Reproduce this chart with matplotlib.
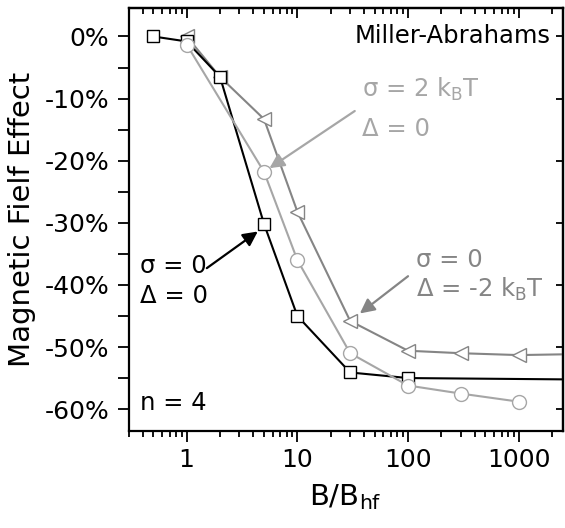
import numpy as np
import matplotlib.pyplot as plt
from matplotlib.ticker import FixedLocator, NullFormatter, LogLocator

# B/B_hf values and magnetic field effect (%) for each curve
b_sq = [0.5, 1, 2, 5, 10, 30, 100, 10000]
mfe_sq = [0.0, -0.8, -6.5, -30.2, -45.0, -54.1, -55.0, -55.3]

b_tri = [1, 2, 5, 10, 30, 100, 300, 1000, 10000]
mfe_tri = [0.0, -6.5, -13.3, -28.2, -45.8, -50.6, -51.0, -51.3, -51.0]

b_circ = [1, 5, 10, 30, 100, 300, 1000]
mfe_circ = [-1.3, -21.8, -36.0, -51.0, -56.2, -57.5, -58.8]

y_ticks = [0, -10, -20, -30, -40, -50, -60]
y_ticklabels = ['0%', '-10%', '-20%', '-30%', '-40%', '-50%', '-60%']

LIGHT = '#a6a6a6'
MID = '#858585'

fig = plt.figure(figsize=(5.65, 5.28), dpi=100)
ax = fig.add_axes([0.228, 0.184, 0.768, 0.801])

ax.plot(b_tri, mfe_tri, color=MID, lw=1.5, marker='<', ms=10, mfc='white', mec=MID, mew=1.0, zorder=2)
ax.plot(b_sq, mfe_sq, color='black', lw=1.5, marker='s', ms=8.5, mfc='white', mec='black', mew=1.0, zorder=3)
ax.plot(b_circ, mfe_circ, color=LIGHT, lw=1.5, marker='o', ms=10, mfc='white', mec=LIGHT, mew=1.0, zorder=4)

ax.set_xscale('log')
ax.set_xlim(0.3, 2500)
ax.set_ylim(-63.5, 4.6)

ax.xaxis.set_major_locator(FixedLocator([1, 10, 100, 1000]))
ax.xaxis.set_minor_locator(LogLocator(base=10, subs=np.arange(2, 10)))
ax.xaxis.set_minor_formatter(NullFormatter())
ax.set_xticklabels(['1', '10', '100', '1000'])

ax.yaxis.set_major_locator(FixedLocator(np.arange(-60, 5, 5)))
ax.set_yticklabels(['' if v % 10 else f'{int(v)}%' for v in np.arange(-60, 5, 5)])

ax.tick_params(axis='both', which='major', direction='out', length=8, width=1.3, labelsize=18)
ax.tick_params(axis='y', which='major', pad=6)
ax.tick_params(axis='x', which='major', pad=4)
ax.tick_params(axis='x', which='minor', direction='out', length=4, width=1.3)

for s in ax.spines.values():
    s.set_linewidth(1.6)

# inward ticks on top and right
top = ax.secondary_xaxis('top')
top.xaxis.set_major_locator(FixedLocator([1, 10, 100, 1000]))
top.xaxis.set_minor_locator(LogLocator(base=10, subs=np.arange(2, 10)))
top.tick_params(which='major', direction='in', length=7, width=1.3, labeltop=False)
top.tick_params(which='minor', direction='in', length=4, width=1.3)
top.xaxis.set_major_formatter(NullFormatter())
top.xaxis.set_minor_formatter(NullFormatter())
top.spines['top'].set_linewidth(1.6)

right = ax.secondary_yaxis('right')
right.yaxis.set_major_locator(FixedLocator(y_ticks))
right.tick_params(direction='in', length=5, width=1.3, labelright=False)
right.yaxis.set_major_formatter(NullFormatter())
right.spines['right'].set_linewidth(1.6)

ax.set_ylabel('Magnetic Fielf Effect', fontsize=21, labelpad=6)
ax.set_xlabel('B/B$_\\mathregular{hf}$', fontsize=21, labelpad=8)

fs = 17.5
ax.text(1950, 0, 'Miller-Abrahams', fontsize=fs, ha='right', va='center')
ax.text(38, -8.5, 'σ = 2 k$_\\mathregular{B}$T', fontsize=fs, color=LIGHT, va='center')
ax.text(38, -14.9, 'Δ = 0', fontsize=fs, color=LIGHT, va='center')
ax.text(117, -36.0, 'σ = 0', fontsize=fs, color=MID, va='center')
ax.text(117, -40.8, 'Δ = -2 k$_\\mathregular{B}$T', fontsize=fs, color=MID, va='center')
ax.text(0.376, -37.0, 'σ = 0', fontsize=fs, va='center')
ax.text(0.376, -41.8, 'Δ = 0', fontsize=fs, va='center')
ax.text(0.376, -59.0, 'n = 4', fontsize=fs, va='center')

arrow = dict(arrowstyle='-|>', lw=1.6, mutation_scale=22, shrinkA=0, shrinkB=0)
ax.annotate('', xy=(5.6, -21.2), xytext=(33, -12.0), arrowprops=dict(arrow, color=LIGHT))
ax.annotate('', xy=(36.7, -44.6), xytext=(100, -38.6), arrowprops=dict(arrow, color=MID))
ax.annotate('', xy=(4.39, -31.4), xytext=(1.52, -37.3), arrowprops=dict(arrow, color='black'))

fig.savefig('out.png', dpi=100)
